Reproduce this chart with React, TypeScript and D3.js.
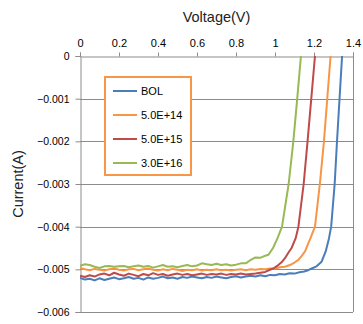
import React, { useEffect, useRef } from 'react';
import * as d3 from 'd3';

// I-V curves, voltage (V) and current (A)
const bolV = [0, 0.025, 0.05, 0.075, 0.1, 0.125, 0.15, 0.175, 0.2, 0.225, 0.25, 0.275, 0.3, 0.325, 0.35, 0.375, 0.4, 0.425, 0.45, 0.475, 0.5, 0.525, 0.55, 0.575, 0.6, 0.625, 0.65, 0.675, 0.7, 0.725, 0.75, 0.775, 0.8, 0.825, 0.85, 0.875, 0.9, 0.925, 0.95, 0.975, 1.0, 1.025, 1.05, 1.075, 1.1, 1.125, 1.15, 1.17, 1.188, 1.213, 1.239, 1.26, 1.277, 1.288, 1.306, 1.318, 1.331, 1.344];
const bolI = [-0.00520, -0.00524, -0.00522, -0.00526, -0.00521, -0.00525, -0.00522, -0.00519, -0.00523, -0.00521, -0.00518, -0.00522, -0.00520, -0.00524, -0.00519, -0.00522, -0.00520, -0.00517, -0.00521, -0.00519, -0.00522, -0.00518, -0.00520, -0.00517, -0.00519, -0.00521, -0.00518, -0.00520, -0.00517, -0.00519, -0.00521, -0.00518, -0.00516, -0.00519, -0.00517, -0.00515, -0.00517, -0.00514, -0.00516, -0.00513, -0.00514, -0.00511, -0.00512, -0.00509, -0.00510, -0.00507, -0.00505, -0.00502, -0.00498, -0.00493, -0.00482, -0.00458, -0.00427, -0.00400, -0.00300, -0.00200, -0.00100, 0];

const e14V = [0, 0.025, 0.05, 0.075, 0.1, 0.125, 0.15, 0.175, 0.2, 0.225, 0.25, 0.275, 0.3, 0.325, 0.35, 0.375, 0.4, 0.425, 0.45, 0.475, 0.5, 0.525, 0.55, 0.575, 0.6, 0.625, 0.65, 0.675, 0.7, 0.725, 0.75, 0.775, 0.8, 0.825, 0.85, 0.875, 0.9, 0.925, 0.95, 0.975, 1.0, 1.025, 1.05, 1.077, 1.1, 1.12, 1.138, 1.154, 1.168, 1.182, 1.205, 1.23, 1.251, 1.268, 1.285];
const e14I = [-0.00497, -0.00500, -0.00502, -0.00499, -0.00501, -0.00503, -0.00500, -0.00498, -0.00501, -0.00503, -0.00500, -0.00499, -0.00502, -0.00500, -0.00498, -0.00501, -0.00503, -0.00500, -0.00502, -0.00499, -0.00501, -0.00504, -0.00501, -0.00502, -0.00500, -0.00503, -0.00501, -0.00502, -0.00500, -0.00502, -0.00501, -0.00503, -0.00501, -0.00500, -0.00502, -0.00500, -0.00501, -0.00499, -0.00500, -0.00498, -0.00498, -0.00495, -0.00494, -0.00490, -0.00484, -0.00478, -0.00468, -0.00458, -0.00442, -0.00427, -0.00400, -0.00300, -0.00200, -0.00100, 0];

const e15V = [0, 0.025, 0.05, 0.075, 0.1, 0.125, 0.15, 0.175, 0.2, 0.225, 0.25, 0.275, 0.3, 0.325, 0.35, 0.375, 0.4, 0.425, 0.45, 0.475, 0.5, 0.525, 0.55, 0.575, 0.6, 0.625, 0.65, 0.675, 0.7, 0.725, 0.75, 0.775, 0.8, 0.825, 0.85, 0.875, 0.9, 0.925, 0.95, 0.974, 0.995, 1.017, 1.035, 1.051, 1.07, 1.085, 1.106, 1.12, 1.147, 1.167, 1.186, 1.205];
const e15I = [-0.00515, -0.00518, -0.00514, -0.00517, -0.00512, -0.00510, -0.00514, -0.00508, -0.00512, -0.00515, -0.00510, -0.00513, -0.00516, -0.00511, -0.00514, -0.00509, -0.00513, -0.00511, -0.00515, -0.00512, -0.00510, -0.00513, -0.00511, -0.00514, -0.00512, -0.00510, -0.00513, -0.00511, -0.00512, -0.00510, -0.00513, -0.00511, -0.00512, -0.00510, -0.00512, -0.00511, -0.00510, -0.00508, -0.00506, -0.00501, -0.00497, -0.00490, -0.00483, -0.00474, -0.00460, -0.00450, -0.00427, -0.00400, -0.00300, -0.00200, -0.00100, 0];

const e16V = [0, 0.025, 0.05, 0.075, 0.1, 0.125, 0.15, 0.175, 0.2, 0.225, 0.25, 0.275, 0.3, 0.325, 0.35, 0.375, 0.4, 0.425, 0.45, 0.475, 0.5, 0.525, 0.55, 0.575, 0.6, 0.625, 0.65, 0.675, 0.7, 0.725, 0.75, 0.775, 0.8, 0.825, 0.85, 0.875, 0.9, 0.925, 0.95, 0.966, 0.99, 1.013, 1.036, 1.053, 1.07, 1.094, 1.114, 1.133];
const e16I = [-0.00492, -0.00488, -0.00490, -0.00494, -0.00497, -0.00493, -0.00492, -0.00494, -0.00493, -0.00492, -0.00495, -0.00493, -0.00491, -0.00494, -0.00492, -0.00496, -0.00493, -0.00490, -0.00494, -0.00493, -0.00495, -0.00492, -0.00490, -0.00493, -0.00491, -0.00486, -0.00488, -0.00490, -0.00487, -0.00490, -0.00488, -0.00491, -0.00489, -0.00486, -0.00486, -0.00478, -0.00472, -0.00473, -0.00468, -0.00466, -0.00450, -0.00427, -0.00400, -0.00350, -0.00300, -0.00200, -0.00100, 0];

const seriesNames = ['BOL', '5.0E+14', '5.0E+15', '3.0E+16'];
const seriesColors = ['#4A7EBB', '#F79646', '#BE4B48', '#98B954'];
const xTicks = [0, 0.2, 0.4, 0.6, 0.8, 1, 1.2, 1.4];
const yTicks = [0, -0.001, -0.002, -0.003, -0.004, -0.005, -0.006];

const W = 363;
const H = 324;

const App = () => {
  const svgRef = useRef<SVGSVGElement>(null);

  useEffect(() => {
    const margin = { top: 56, right: 10, bottom: 12, left: 80 };
    const width = W - margin.left - margin.right;
    const height = H - margin.top - margin.bottom;
    const font = '"Liberation Sans", Arial, sans-serif';

    const x = d3.scaleLinear().domain([0, 1.4]).range([0, width]);
    const y = d3.scaleLinear().domain([0, -0.006]).range([0, height]);

    const svg = d3.select(svgRef.current);
    svg.selectAll('*').remove();

    const g = svg.append('g').attr('transform', `translate(${margin.left},${margin.top})`);

    svg.append('defs').append('clipPath').attr('id', 'plot-clip')
      .append('rect').attr('x', 0).attr('y', -1).attr('width', width).attr('height', height + 2);

    // horizontal gridlines
    g.selectAll('.grid')
      .data(yTicks.slice(1))
      .enter()
      .append('line')
      .attr('x1', 0)
      .attr('x2', width)
      .attr('y1', d => Math.round(y(d)) + 0.5)
      .attr('y2', d => Math.round(y(d)) + 0.5)
      .attr('stroke', '#8c8c8c')
      .attr('stroke-width', 1);

    // right border of plot area
    g.append('line')
      .attr('x1', Math.round(width) + 0.5).attr('x2', Math.round(width) + 0.5)
      .attr('y1', 0).attr('y2', height)
      .attr('stroke', '#8c8c8c');

    // top x axis
    const xAxis = g.append('g')
      .attr('transform', 'translate(0,0.5)')
      .call(d3.axisTop(x).tickValues(xTicks).tickSize(4).tickPadding(6).tickFormat(d => String(d)));
    xAxis.select('.domain').attr('stroke', '#8c8c8c');
    xAxis.selectAll('line').attr('stroke', '#8c8c8c');
    xAxis.selectAll('text').attr('font-family', font).attr('font-size', 11).attr('fill', '#000');

    // left y axis
    const yAxis = g.append('g')
      .attr('transform', 'translate(0.5,0)')
      .call(d3.axisLeft(y).tickValues(yTicks).tickSize(5).tickPadding(6).tickFormat(d => (d === 0 ? '0' : d3.format('.3f')(d as number))));
    yAxis.select('.domain').attr('stroke', '#8c8c8c');
    yAxis.selectAll('line').attr('stroke', '#8c8c8c');
    yAxis.selectAll('text').attr('font-family', font).attr('font-size', 10.5).attr('fill', '#000');

    // curves
    const allV = [bolV, e14V, e15V, e16V];
    const allI = [bolI, e14I, e15I, e16I];
    const line = d3.line<[number, number]>().x(d => x(d[0])).y(d => y(d[1]));
    const curves = g.append('g').attr('clip-path', 'url(#plot-clip)');
    allV.forEach((vs, k) => {
      const pts = vs.map((v, j) => [v, allI[k][j]] as [number, number]);
      curves.append('path')
        .datum(pts)
        .attr('d', line)
        .attr('fill', 'none')
        .attr('stroke', seriesColors[k])
        .attr('stroke-width', 2)
        .attr('stroke-linejoin', 'round');
    });

    // axis titles
    svg.append('text')
      .attr('x', margin.left + width / 2)
      .attr('y', 22)
      .attr('text-anchor', 'middle')
      .attr('font-family', font)
      .attr('font-size', 14.5)
      .attr('fill', '#222')
      .text('Voltage(V)');

    svg.append('text')
      .attr('transform', `translate(23,${margin.top + height / 2}) rotate(-90)`)
      .attr('text-anchor', 'middle')
      .attr('font-family', font)
      .attr('font-size', 14.5)
      .attr('fill', '#222')
      .text('Current(A)');

    // legend
    const legend = svg.append('g').attr('transform', 'translate(105,77)');
    legend.append('rect')
      .attr('width', 86)
      .attr('height', 98)
      .attr('fill', '#fff')
      .attr('stroke', '#F79646')
      .attr('stroke-width', 2);
    seriesNames.forEach((name, k) => {
      const ly = 14 + k * 24;
      legend.append('line')
        .attr('x1', 8).attr('x2', 32)
        .attr('y1', ly).attr('y2', ly)
        .attr('stroke', seriesColors[k])
        .attr('stroke-width', 2);
      legend.append('text')
        .attr('x', 36)
        .attr('y', ly + 4)
        .attr('font-family', font)
        .attr('font-size', 11)
        .attr('fill', '#000')
        .text(name);
    });
  }, []);

  return (
    <svg
      ref={svgRef}
      width={W}
      height={H}
      style={{ position: 'absolute', left: 0, top: 0, background: '#fff' }}
    />
  );
};

export default App;
